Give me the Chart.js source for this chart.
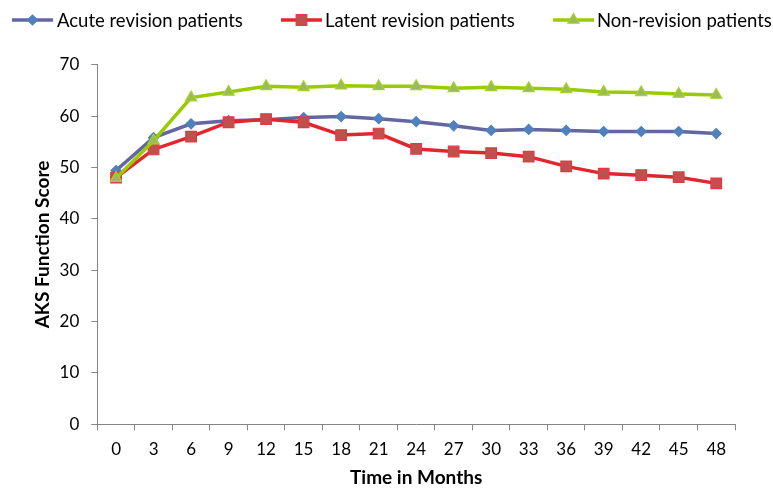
<!DOCTYPE html>
<html>
<head>
<meta charset="utf-8">
<script src="https://cdn.jsdelivr.net/npm/chart.js@4.4.1/dist/chart.umd.min.js"></script>
<style>
html,body{margin:0;padding:0;background:#fff;}
#wrap{width:773px;height:492px;position:relative;}
</style>
</head>
<body>
<div id="wrap"><canvas id="c" width="773" height="492"></canvas></div>
<script>
const months = ["0","3","6","9","12","15","18","21","24","27","30","33","36","39","42","45","48"];
const acute = [49.4,55.8,58.5,59.1,59.3,59.7,59.9,59.5,58.9,58.1,57.2,57.4,57.2,57.0,57.0,57.0,56.6];
const latent = [48.0,53.5,56.0,58.8,59.4,58.8,56.3,56.6,53.6,53.1,52.8,52.1,50.2,48.8,48.5,48.1,46.9];
const nonrev = [47.9,55.2,63.6,64.7,65.8,65.6,65.9,65.8,65.8,65.4,65.6,65.4,65.2,64.7,64.6,64.3,64.1];
const seriesNames = ["Acute revision patients","Latent revision patients","Non-revision patients"];
const yTicks = [0,10,20,30,40,50,60,70];

const FONT = "Lato, 'Open Sans', sans-serif";

const styles = [
  {line:'#6366A3', fill:'#4F81BD', border:'#4F81BD', point:'rectRot', r:5, order:2},
  {line:'#E1262E', fill:'#C0504D', border:'#E23A44', point:'rect', r:7.5, order:1},
  {line:'#99CC00', fill:'#9BBB59', border:'#A6D22A', point:'triangle', r:6.5, order:0}
];
const data = [acute, latent, nonrev];

// legend drawn with Chart.js point helper
const legendPos = [{x:12,tx:57},{x:281,tx:325},{x:553,tx:597}];
const legendPlugin = {
  id:'lineLegend',
  afterDraw(chart){
    const ctx = chart.ctx;
    const y = 20;
    chart.data.datasets.forEach((ds,i)=>{
      const p = legendPos[i];
      ctx.save();
      ctx.strokeStyle = ds.borderColor; ctx.lineWidth = 3.5;
      ctx.beginPath(); ctx.moveTo(p.x,y); ctx.lineTo(p.x+41,y); ctx.stroke();
      ctx.fillStyle = ds.pointBackgroundColor; ctx.strokeStyle = ds.pointBorderColor; ctx.lineWidth = 1.2;
      Chart.helpers.drawPoint(ctx,{pointStyle:ds.pointStyle,radius:ds.pointRadius,rotation:0,borderWidth:1.2}, p.x+20.5, y);
      ctx.fillStyle = '#000';
      ctx.font = "18.5px " + FONT;
      ctx.textBaseline = 'middle';
      ctx.textAlign = 'left';
      ctx.fillText(ds.label, p.tx, y+1);
      ctx.restore();
    });
  }
};

new Chart(document.getElementById('c'), {
  type:'line',
  data:{
    labels: months,
    datasets: data.map((d,i)=>({
      label: seriesNames[i],
      data: d,
      order: styles[i].order,
      borderColor: styles[i].line,
      borderWidth: 3.5,
      pointStyle: styles[i].point,
      pointRadius: styles[i].r,
      pointBackgroundColor: styles[i].fill,
      pointBorderColor: styles[i].border,
      pointBorderWidth: 1.2,
      tension: 0,
      fill: false
    }))
  },
  plugins:[legendPlugin],
  options:{
    responsive:false,
    animation:false,
    devicePixelRatio:1,
    layout:{padding:{left:0,right:38,top:64.7,bottom:0}},
    plugins:{
      legend:{display:false},
      tooltip:{enabled:false}
    },
    scales:{
      x:{
        offset:true,
        afterFit(s){ s.height = 492 - 424.3; },
        grid:{display:true, drawOnChartArea:false, drawTicks:true, tickLength:6, color:'#868686', offset:true},
        border:{display:true,color:'#868686',width:1},
        ticks:{color:'#000',font:{family:FONT,size:17},padding:9,maxRotation:0,autoSkip:false},
        title:{display:true,text:'Time in Months',color:'#000',font:{family:FONT,size:19,weight:'bold'},padding:{top:0,bottom:2.6}}
      },
      y:{
        min:0,max:70,
        afterFit(s){ s.width = 97.3; },
        afterBuildTicks(s){ s.ticks = yTicks.map(v=>({value:v})); },
        ticks:{color:'#000',font:{family:FONT,size:17},padding:12},
        grid:{display:true, drawOnChartArea:false, drawTicks:true, tickLength:6, color:'#868686'},
        border:{display:true,color:'#868686',width:1},
        title:{display:true,text:'AKS Function Score',color:'#000',font:{family:FONT,size:19,weight:'bold'},padding:{top:31.6,bottom:0}}
      }
    }
  }
});
</script>
</body>
</html>
